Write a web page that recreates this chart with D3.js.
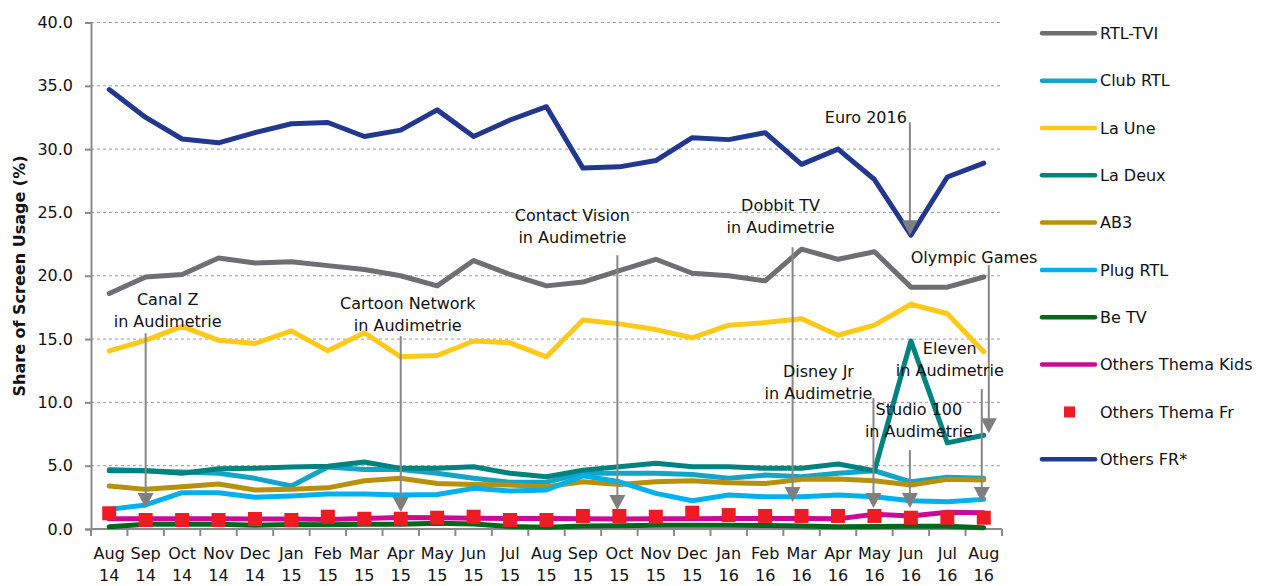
<!DOCTYPE html>
<html>
<head>
<meta charset="utf-8">
<script src="https://cdn.jsdelivr.net/npm/d3@7"></script>
<style>
  body { margin: 0; background: #fff; }
  svg { font-family: "DejaVu Sans", Verdana, sans-serif; }
</style>
</head>
<body>
<svg id="chart" width="1273" height="586"></svg>
<script>
// months on the x axis
var months = ["Aug 14","Sep 14","Oct 14","Nov 14","Dec 14","Jan 15","Feb 15","Mar 15","Apr 15","May 15","Jun 15","Jul 15",
              "Aug 15","Sep 15","Oct 15","Nov 15","Dec 15","Jan 16","Feb 16","Mar 16","Apr 16","May 16","Jun 16","Jul 16","Aug 16"];
var yTicks = [0, 5, 10, 15, 20, 25, 30, 35, 40];

// share of screen usage (%) per channel
var rtlTvi      = [18.6,19.9,20.1,21.4,21.0,21.1,20.8,20.5,20.0,19.2,21.2,20.1,19.2,19.5,20.4,21.3,20.2,20.0,19.6,22.1,21.3,21.9,19.1,19.1,19.9];
var clubRtl     = [4.7,4.6,4.5,4.4,4.0,3.4,4.9,4.7,4.7,4.4,4.0,3.7,3.7,4.4,4.4,4.4,4.3,4.0,4.26,4.13,4.4,4.6,3.73,4.08,4.0];
var laUne       = [14.07,14.9,16.0,14.9,14.65,15.65,14.07,15.5,13.6,13.7,14.85,14.7,13.6,16.5,16.2,15.75,15.1,16.1,16.3,16.6,15.3,16.1,17.75,17.0,14.0];
var laDeux      = [4.6,4.6,4.4,4.76,4.8,4.9,4.95,5.29,4.79,4.79,4.92,4.4,4.13,4.65,4.92,5.2,4.92,4.92,4.79,4.79,5.13,4.6,14.85,6.8,7.4];
var ab3         = [3.39,3.13,3.34,3.55,3.08,3.13,3.25,3.81,4.0,3.6,3.52,3.47,3.34,3.73,3.52,3.73,3.81,3.65,3.6,3.92,3.94,3.81,3.47,3.92,3.87];
var plugRtl     = [1.55,1.9,2.87,2.87,2.5,2.6,2.76,2.76,2.68,2.72,3.21,3.0,3.08,4.2,3.73,2.81,2.23,2.68,2.55,2.55,2.68,2.55,2.23,2.15,2.34];
var beTv        = [0.18,0.38,0.38,0.38,0.3,0.35,0.33,0.37,0.38,0.45,0.4,0.2,0.14,0.23,0.26,0.3,0.3,0.3,0.28,0.23,0.18,0.2,0.22,0.22,0.1];
var themaKids   = [0.8,0.8,0.8,0.8,0.78,0.78,0.75,0.82,0.9,0.88,0.85,0.82,0.82,0.8,0.78,0.8,0.8,0.82,0.82,0.82,0.8,1.16,1.03,1.33,1.28];
var themaFr     = [1.24,0.71,0.71,0.71,0.79,0.71,0.97,0.81,0.81,0.89,0.97,0.71,0.71,1.03,1.03,0.97,1.29,1.1,1.03,1.03,1.03,1.03,0.89,0.89,0.89];
var othersFr    = [34.7,32.5,30.8,30.5,31.3,32.0,32.1,31.0,31.5,33.1,31.0,32.3,33.35,28.5,28.6,29.1,30.9,30.75,31.3,28.8,30.0,27.6,23.2,27.8,28.9];

// series in drawing order (later ones on top)
var series = [
  { name: "RTL-TVI", values: rtlTvi, color: "#6e6e73" },
  { name: "Club RTL", values: clubRtl, color: "#13a4c8" },
  { name: "La Une", values: laUne, color: "#ffc917" },
  { name: "La Deux", values: laDeux, color: "#00827e" },
  { name: "AB3", values: ab3, color: "#b8900b" },
  { name: "Plug RTL", values: plugRtl, color: "#00b1ee" },
  { name: "Be TV", values: beTv, color: "#00681a" },
  { name: "Others Thema Kids", values: themaKids, color: "#cc0a96" },
  { name: "Others Thema Fr", values: themaFr, color: "#ed1c24", marker: true },
  { name: "Others FR*", values: othersFr, color: "#22388f" }
];

// event annotations: month, arrow from/to (in %), label lines, label offset
var notes = [
  { at: "Sep 14", from: 15.46, to: 1.66, text: ["Canal Z", "in Audimetrie"], ly: 18.15, dx: 22, anchor: "middle", shift: 0 },
  { at: "Apr 15", from: 15.23, to: 1.34, text: ["Cartoon Network", "in Audimetrie"], ly: 17.83, dx: 7, anchor: "middle", shift: 0 },
  { at: "Oct 15", from: 21.62, to: 1.5, text: ["Contact Vision", "in Audimetrie"], ly: 24.77, dx: -45, anchor: "middle", shift: -2 },
  { at: "Mar 16", from: 22.25, to: 2.13, text: ["Dobbit TV", "in Audimetrie"], ly: 25.56, dx: -12, anchor: "middle", shift: -9 },
  { at: "Jun 16", from: 32.11, to: 23.2, text: ["Euro 2016"], ly: 32.5, dx: -3, anchor: "end", shift: -1 },
  { at: "Aug 16", from: 20.83, to: 7.57, text: ["Olympic Games"], ly: 21.46, dx: -78, anchor: "start", shift: 5 },
  { at: "Aug 16", from: 11.05, to: 2.13, text: ["Eleven", "in Audimetrie"], ly: 14.28, dx: -32, anchor: "middle", shift: -2 },
  { at: "May 16", from: 10.34, to: 1.66, text: ["Disney Jr", "in Audimetrie"], ly: 12.47, dx: -55, anchor: "middle", shift: -1 },
  { at: "Jun 16", from: 6.23, to: 1.66, text: ["Studio 100", "in Audimetrie"], ly: 9.47, dx: 9, anchor: "middle", shift: -1 }
];

var svg = d3.select("#chart");
var plotL = 91, plotR = 1002, plotT = 22.5, plotB = 529;

var x = d3.scaleBand().domain(months).range([plotL, plotR]).padding(0);
var y = d3.scaleLinear().domain([0, 40]).range([plotB, plotT]);
var cx = function(m) { return x(m) + x.bandwidth() / 2; };

// dashed grid
svg.append("g").selectAll("line")
  .data(yTicks.filter(function(d) { return d > 0; }))
  .enter().append("line")
    .attr("x1", plotL).attr("x2", plotR)
    .attr("y1", function(d) { return y(d); })
    .attr("y2", function(d) { return y(d); })
    .attr("stroke", "#9a9a9a")
    .attr("stroke-width", 1)
    .attr("stroke-dasharray", "3,3");

// y axis
var yAxis = svg.append("g")
  .attr("transform", "translate(" + plotL + ",0)")
  .call(d3.axisLeft(y).tickValues(yTicks).tickFormat(d3.format(".1f")).tickSize(6).tickPadding(12));
yAxis.select(".domain").attr("stroke", "#8a8a8a").attr("stroke-width", 2);
yAxis.selectAll(".tick line").attr("stroke", "#8a8a8a").attr("stroke-width", 2);
yAxis.selectAll(".tick text").attr("font-size", 16).attr("fill", "#111")
  .attr("font-family", "DejaVu Sans");

// x axis with ticks between the months
var xg = svg.append("g");
xg.append("line")
  .attr("x1", plotL).attr("x2", plotR)
  .attr("y1", plotB).attr("y2", plotB)
  .attr("stroke", "#8a8a8a").attr("stroke-width", 2);
xg.selectAll("line.tk")
  .data(months.concat(["end"]))
  .enter().append("line")
    .attr("class", "tk")
    .attr("x1", function(d, i) { return plotL + i * x.bandwidth(); })
    .attr("x2", function(d, i) { return plotL + i * x.bandwidth(); })
    .attr("y1", plotB).attr("y2", plotB + 7)
    .attr("stroke", "#8a8a8a").attr("stroke-width", 2);
var xl = xg.selectAll("text")
  .data(months)
  .enter().append("text")
    .attr("text-anchor", "middle")
    .attr("font-size", 16)
    .attr("fill", "#111")
    .attr("x", function(d) { return cx(d); });
xl.append("tspan")
  .attr("x", function(d) { return cx(d); })
  .attr("y", 559)
  .text(function(d) { return d.split(" ")[0]; });
xl.append("tspan")
  .attr("x", function(d) { return cx(d); })
  .attr("y", 581)
  .text(function(d) { return d.split(" ")[1]; });

// y title
svg.append("text")
  .attr("transform", "translate(25,276) rotate(-90)")
  .attr("text-anchor", "middle")
  .attr("font-size", 16)
  .attr("font-weight", "bold")
  .attr("fill", "#111")
  .text("Share of Screen Usage (%)");

// lines and markers
var line = d3.line()
  .x(function(d, i) { return cx(months[i]); })
  .y(function(d) { return y(d); });

series.forEach(function(s) {
  if (s.marker) {
    svg.append("g").selectAll("rect")
      .data(s.values)
      .enter().append("rect")
        .attr("x", function(d, i) { return cx(months[i]) - 7; })
        .attr("y", function(d) { return y(d) - 7; })
        .attr("width", 14).attr("height", 14)
        .attr("fill", s.color);
  } else {
    svg.append("path")
      .datum(s.values)
      .attr("d", line)
      .attr("fill", "none")
      .attr("stroke", s.color)
      .attr("stroke-width", 5)
      .attr("stroke-linejoin", "round")
      .attr("stroke-linecap", "round");
  }
});

// annotations
var ng = svg.append("g");
notes.forEach(function(n) {
  var ax = cx(n.at) + n.shift;
  var tip = y(n.to);
  ng.append("line")
    .attr("x1", ax).attr("x2", ax)
    .attr("y1", y(n.from)).attr("y2", tip - 12)
    .attr("stroke", "#878787").attr("stroke-width", 2);
  ng.append("path")
    .attr("d", "M" + (ax - 8) + "," + (tip - 15) + "L" + (ax + 8) + "," + (tip - 15) + "L" + ax + "," + tip + "Z")
    .attr("fill", "#7f7f7f");
  n.text.forEach(function(t, k) {
    ng.append("text")
      .attr("x", ax + n.dx)
      .attr("y", y(n.ly) + k * 22.5)
      .attr("dy", "0.35em")
      .attr("text-anchor", n.anchor)
      .attr("font-size", 16)
      .attr("fill", "#111")
      .text(t);
  });
});

// legend
var lg = svg.append("g");
series.forEach(function(s, i) {
  var ly = 33.3 + i * 47.33;
  if (s.marker) {
    lg.append("rect")
      .attr("x", 1064).attr("y", ly - 5.5)
      .attr("width", 11).attr("height", 11)
      .attr("fill", s.color);
  } else {
    lg.append("line")
      .attr("x1", 1042).attr("x2", 1095)
      .attr("y1", ly).attr("y2", ly)
      .attr("stroke", s.color)
      .attr("stroke-width", 4.5)
      .attr("stroke-linecap", "round");
  }
  lg.append("text")
    .attr("x", 1100).attr("y", ly)
    .attr("dy", "0.35em")
    .attr("font-size", 16)
    .attr("fill", "#111")
    .text(s.name);
});
</script>
</body>
</html>
